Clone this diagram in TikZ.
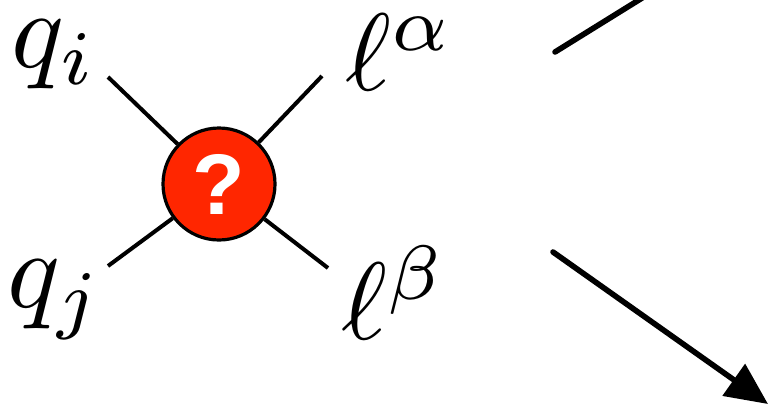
\documentclass[tikz,border=0pt]{standalone}
\usepackage{graphicx}
\usepackage{fontspec}
\newfontfamily\qmarkfont{Liberation Sans}
\usetikzlibrary{arrows.meta, positioning}
\definecolor{blobred}{RGB}{255,38,0}
\newcommand{\biglbl}[1]{\scalebox{5.5}{$#1$}}

\begin{document}
\begin{tikzpicture}[
      x=0.5pt, y=-0.5pt, >=Stealth,
      blob/.style={circle, draw=black, line width=1.6pt, fill=blobred, minimum size=56pt, inner sep=0pt, text=white},
      lbl/.style={inner sep=0pt},
      leg/.style={draw, line width=2pt},
      stroke/.style={draw, line width=2.8pt, line cap=round}
    ]
    \clip (0,0) rectangle (769,408);
    % Nodes
    \node[blob] (vertex) at (219,184) {\scalebox{4.3}{\qmarkfont\bfseries ?}};
    \node[lbl] (qi) at (54,55) {\biglbl{q_i}};
    \node[lbl] (la) at (400,52) {\biglbl{\ell^\alpha}};
    \node[lbl] (qj) at (55,300) {\biglbl{q_j}};
    \node[lbl] (lb) at (394,293) {\biglbl{\ell^\beta}};

    % Leg ends
    \coordinate (qiend) at (108,77);
    \coordinate (laend) at (322,76);
    \coordinate (qjend) at (108,266);
    \coordinate (lbend) at (328,268);

    % Legs
    \draw[leg] (vertex) -- (qiend);
    \draw[leg] (vertex) -- (laend);
    \draw[leg] (vertex) -- (qjend);
    \draw[leg] (vertex) -- (lbend);

    % Strokes on the right
    \coordinate (upstart) at (555,52);
    \coordinate (upend) at (655,-10);
    \coordinate (downstart) at (553,252);
    \coordinate (downtip) at (768,404);
    \draw[stroke] (upstart) -- (upend);
    \draw[stroke, -{Triangle[length=21pt, width=19pt]}] (downstart) -- (downtip);
  \end{tikzpicture}
\end{document}
